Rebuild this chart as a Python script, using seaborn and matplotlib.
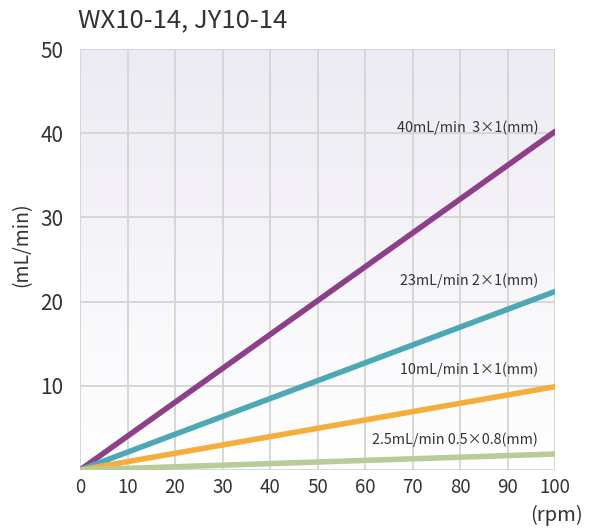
import numpy as np
import pandas as pd
import matplotlib
matplotlib.use("Agg")
import matplotlib.pyplot as plt
import seaborn as sns

rpm = [0, 100]
flow_3x1 = [0, 40.2]
flow_2x1 = [0, 21.2]
flow_1x1 = [0, 9.9]
flow_05x08 = [0, 1.9]
series_names = ["40mL/min  3×1(mm)", "23mL/min 2×1(mm)", "10mL/min 1×1(mm)", "2.5mL/min 0.5×0.8(mm)"]
label_pos = [40.7, 22.5, 11.9, 3.6]
colors = ["#8e3f8a", "#4aa9b5", "#f5ae3c", "#b7cc98"]
x_ticks = [0, 10, 20, 30, 40, 50, 60, 70, 80, 90, 100]
y_ticks = [10, 20, 30, 40, 50]

sns.set_theme(style="white")
plt.rcParams['font.family'] = ['Noto Sans CJK JP', 'DejaVu Sans']
txt = "#333333"

rows = []
for name, vals in zip(series_names, [flow_3x1, flow_2x1, flow_1x1, flow_05x08]):
    for x, y in zip(rpm, vals):
        rows.append({"rpm": x, "flow": y, "series": name})
df = pd.DataFrame(rows)

fig = plt.figure(figsize=(5.91, 5.32), dpi=100)
ax = fig.add_axes([80/591, 1 - 470/532, 475/591, 421/532])

# gradient background (lavender at top fading to white at bottom)
grad = np.linspace(0, 1, 256).reshape(-1, 1)
top = np.array([0xed, 0xea, 0xf3]) / 255
bot = np.array([1.0, 1.0, 1.0])
img = top[None, None, :] * (1 - grad[:, :, None]) + bot[None, None, :] * grad[:, :, None]
ax.imshow(img, extent=[0, 100, 0, 50], origin="upper", aspect="auto", zorder=0)

for x in x_ticks:
    ax.axvline(x, color="#d4d4d4", lw=1.3, zorder=1)
for y in [0] + y_ticks:
    ax.axhline(y, color="#d4d4d4", lw=1.3, zorder=1)

sns.lineplot(data=df, x="rpm", y="flow", hue="series", palette=colors,
             hue_order=series_names, linewidth=4, legend=False, ax=ax, zorder=3)

for name, yp in zip(series_names, label_pos):
    ax.text(96.5, yp, name, ha="right", va="center", fontsize=10.3, color=txt, zorder=4)

ax.set_xlim(0, 100)
ax.set_ylim(0, 50)
ax.set_xticks(x_ticks)
ax.set_yticks(y_ticks)
ax.tick_params(axis="x", length=0, labelsize=13.5, colors=txt, pad=5)
ax.tick_params(axis="y", length=0, labelsize=15, colors=txt, pad=12)
for s in ax.spines.values():
    s.set_visible(False)
ax.set_xlabel("")
ax.set_ylabel("")

fig.text(78/591, 1 - 20/532, "WX10-14, JY10-14", fontsize=18.5, color=txt, ha="left", va="center")
fig.text(22/591, 1 - 245/532, "(mL/min)", fontsize=14, color=txt, rotation=90, ha="center", va="center")
fig.text(583/591, 1 - 515/532, "(rpm)", fontsize=14.5, color=txt, ha="right", va="center")

fig.savefig("out.png", dpi=100)
